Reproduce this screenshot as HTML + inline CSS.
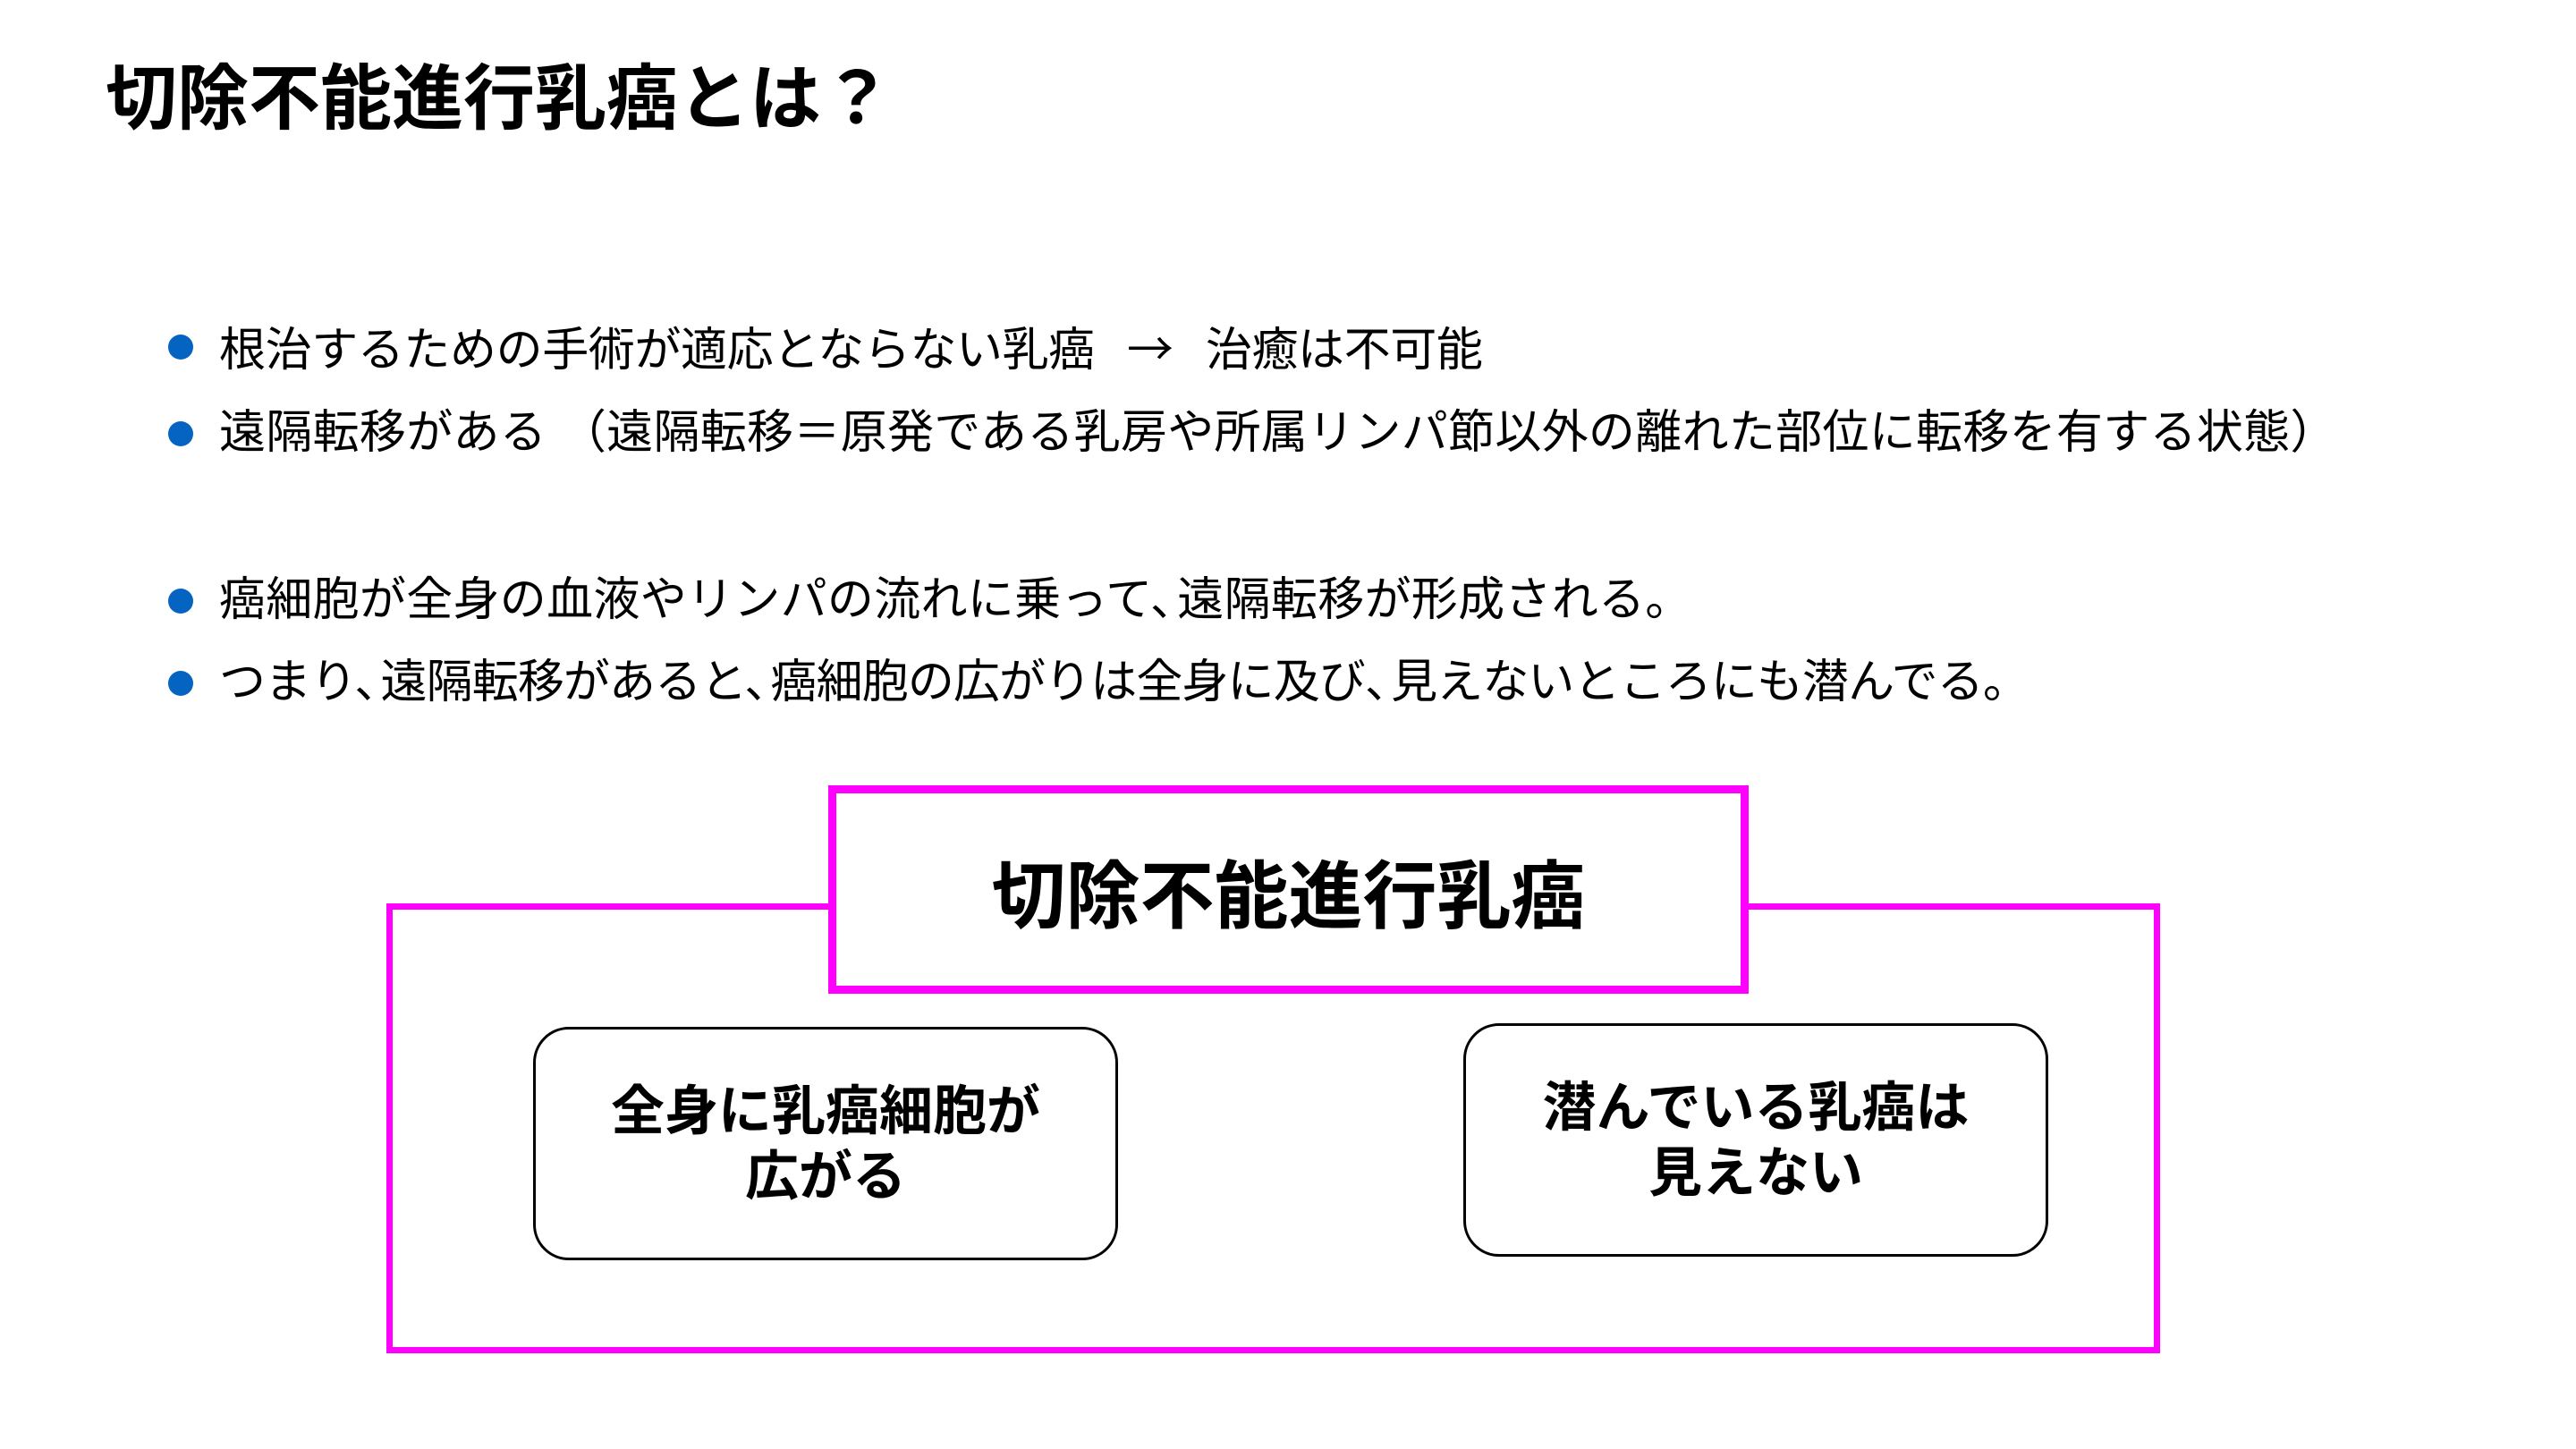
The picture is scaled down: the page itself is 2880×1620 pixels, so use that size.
<!DOCTYPE html>
<html><head><meta charset="utf-8"><style>
html,body{margin:0;padding:0;background:#fff;}
body{width:2880px;height:1620px;position:relative;overflow:hidden;font-family:"Liberation Sans","Noto Sans CJK JP",sans-serif;color:#000;}
.t{position:absolute;white-space:nowrap;}
.title{left:118px;top:66px;font-size:80px;font-weight:bold;line-height:90px;}
.li{position:absolute;left:245px;font-size:52px;line-height:60px;white-space:nowrap;}
.dot{position:absolute;left:188px;width:28px;height:28px;border-radius:50%;background:#0563C1;}
.box{position:absolute;box-sizing:border-box;}
.ctr{display:flex;align-items:center;justify-content:center;text-align:center;font-weight:bold;}
.c{margin-right:-0.42em;}
</style></head><body>
<div class="t title">切除不能進行乳癌とは？</div>

<div class="dot" style="top:374px"></div>
<div class="li" style="top:357px;letter-spacing:-0.4px">根治するための手術が適応とならない乳癌<span style="display:inline-block;width:124px;text-align:center;font-family:'Noto Sans CJK JP',sans-serif">→</span>治癒は不可能</div>
<div class="dot" style="top:471px"></div>
<div class="li" style="top:454px;letter-spacing:0.3px">遠隔転移がある （遠隔転移＝原発である乳房や所属リンパ節以外の離れた部位に転移を有する状態）</div>
<div class="dot" style="top:658px"></div>
<div class="li" style="top:641px;letter-spacing:0.3px">癌細胞が全身の血液やリンパの流れに乗って<span class="c">、</span>遠隔転移が形成される。</div>
<div class="dot" style="top:750px"></div>
<div class="li" style="top:733px;letter-spacing:-0.9px">つまり<span class="c">、</span>遠隔転移があると<span class="c">、</span>癌細胞の広がりは全身に及び<span class="c">、</span>見えないところにも潜んでる。</div>

<div class="box" style="left:432px;top:1010px;width:1983px;height:503px;border:7px solid #FF00FF;"></div>
<div class="box ctr" style="left:926px;top:878px;width:1029px;height:233px;border:9px solid #FF00FF;background:#fff;font-size:83px;">切除不能進行乳癌</div>

<div class="box ctr" style="left:596px;top:1148px;width:654px;height:261px;border:3px solid #000;border-radius:40px;background:#fff;font-size:60px;line-height:73px;">全身に乳癌細胞が<br>広がる</div>
<div class="box ctr" style="left:1636px;top:1144px;width:654px;height:261px;border:3px solid #000;border-radius:40px;background:#fff;font-size:60px;line-height:73px;">潜んでいる乳癌は<br>見えない</div>
</body></html>
